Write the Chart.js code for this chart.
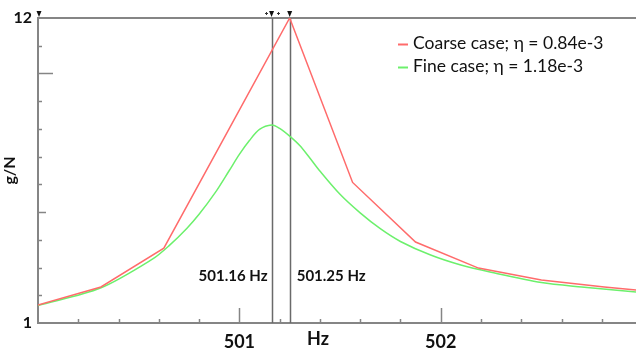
<!DOCTYPE html>
<html>
<head>
<meta charset="utf-8">
<script src="https://cdn.jsdelivr.net/npm/chart.js@4.4.1/dist/chart.umd.min.js"></script>
<style>
  html, body { margin: 0; padding: 0; background: #ffffff; }
  canvas { display: block; }
</style>
</head>
<body>
<canvas id="c" width="636" height="349"></canvas>
<script>
// ---- data ----
const coarseFreq = [500, 500.3125, 500.625, 500.9375, 501.25, 501.5625, 501.875, 502.1875, 502.5, 502.8125, 503.125];
const coarseVal  = [1.65, 2.30, 3.70, 7.85, 12.0, 6.07, 3.92, 2.98, 2.55, 2.30, 2.08];

const fineFreq = [500.00, 500.31, 500.57, 500.65, 500.74, 500.80, 500.88, 500.95, 501.00, 501.05, 501.10, 501.16, 501.20, 501.25, 501.30, 501.35, 501.40, 501.50, 501.60, 501.70, 501.80, 501.95, 502.10, 502.25, 502.50, 502.70, 502.97];
const fineVal  = [1.63, 2.26, 3.31, 3.78, 4.42, 4.92, 5.70, 6.50, 7.08, 7.58, 7.98, 8.14, 8.02, 7.74, 7.40, 6.95, 6.48, 5.64, 4.97, 4.40, 3.94, 3.45, 3.09, 2.83, 2.46, 2.30, 2.12];

const seriesLabels = ['Coarse case; \u03B7 = 0.84e-3', 'Fine case; \u03B7 = 1.18e-3'];
const cursorFreqs = [501.16, 501.25];
const cursorLabels = ['501.16 Hz', '501.25 Hz'];
const xLabelValues = [501, 502];
const yLabelValues = [1, 12];
const xTitle = 'Hz';
const yTitle = 'g/N';

const RED = '#ff6b6b';
const GREEN = '#6cf06c';
const AXIS = '#858585';
const FONT = 'Lato, "Liberation Sans", sans-serif';

const toXY = (xs, ys) => xs.map((x, i) => ({ x: x, y: ys[i] }));

const deco = {
  id: 'deco',
  beforeDatasetsDraw(chart) {
    const ctx = chart.ctx, a = chart.chartArea;
    const xs = chart.scales.x, ys = chart.scales.y;
    ctx.save();
    // top frame line
    ctx.strokeStyle = AXIS; ctx.lineWidth = 2;
    ctx.beginPath(); ctx.moveTo(a.left, a.top); ctx.lineTo(a.right, a.top); ctx.stroke();
    // inward tick marks
    ctx.lineWidth = 1.5;
    xs.ticks.forEach(t => {
      const v = t.value;
      if (v <= xs.min + 1e-6 || v >= xs.max - 1e-6) return;
      const isInt = Math.abs(v - Math.round(v)) < 1e-6;
      const len = isInt ? 15 : 4;
      const px = Math.round(xs.getPixelForValue(v)) + 0.5;
      ctx.beginPath(); ctx.moveTo(px, a.bottom); ctx.lineTo(px, a.bottom - len); ctx.stroke();
    });
    ys.ticks.forEach(t => {
      const v = Math.round(t.value);
      if (v <= ys.min || v >= ys.max) return;
      const len = v === 10 ? 15 : (v === 5 ? 8 : 4);
      const py = Math.round(ys.getPixelForValue(v)) + 0.5;
      ctx.beginPath(); ctx.moveTo(a.left, py); ctx.lineTo(a.left + len, py); ctx.stroke();
    });
    // cursor lines
    ctx.strokeStyle = '#6a6a6a'; ctx.lineWidth = 1.5;
    cursorFreqs.forEach(f => {
      const px = Math.round(xs.getPixelForValue(f)) + 0.5;
      ctx.beginPath(); ctx.moveTo(px, a.top); ctx.lineTo(px, a.bottom); ctx.stroke();
    });
    ctx.restore();
  },
  afterDraw(chart) {
    const ctx = chart.ctx, a = chart.chartArea;
    const xs = chart.scales.x;
    ctx.save();
    // top markers
    ctx.fillStyle = '#111';
    const tri = (px) => {
      ctx.beginPath();
      ctx.moveTo(px - 2.5, a.top - 7); ctx.lineTo(px + 2.5, a.top - 7); ctx.lineTo(px, a.top - 1);
      ctx.closePath(); ctx.fill();
    };
    tri(a.left + 1);
    cursorFreqs.forEach(f => tri(xs.getPixelForValue(f)));
    // small plus marks around the first cursor
    ctx.strokeStyle = '#333'; ctx.lineWidth = 1;
    const p0 = xs.getPixelForValue(cursorFreqs[0]);
    [-6, 6].forEach(d => {
      const cx = Math.round(p0 + d) + 0.5, cy = a.top - 4.5;
      ctx.beginPath(); ctx.moveTo(cx - 1.5, cy); ctx.lineTo(cx + 1.5, cy);
      ctx.moveTo(cx, cy - 1.5); ctx.lineTo(cx, cy + 1.5); ctx.stroke();
    });
    // cursor labels
    ctx.fillStyle = '#111';
    ctx.font = 'bold 15px ' + FONT;
    ctx.textBaseline = 'middle';
    ctx.textAlign = 'right';
    ctx.fillText(cursorLabels[0], xs.getPixelForValue(cursorFreqs[0]) - 4, 276);
    ctx.textAlign = 'left';
    ctx.fillText(cursorLabels[1], xs.getPixelForValue(cursorFreqs[1]) + 7, 276);
    // x title
    ctx.font = 'bold 18px ' + FONT;
    ctx.textAlign = 'center';
    ctx.fillText(xTitle, 318, 339);
    // legend
    ctx.font = '17.5px ' + FONT;
    ctx.textAlign = 'left';
    chart.data.datasets.forEach((ds, i) => {
      const y = 44 + i * 23;
      ctx.strokeStyle = ds.borderColor; ctx.lineWidth = 2;
      ctx.beginPath(); ctx.moveTo(398, y + 0.5); ctx.lineTo(408, y + 0.5); ctx.stroke();
      ctx.fillStyle = '#111';
      ctx.fillText(ds.label, 413, y - 1);
    });
    ctx.restore();
  }
};

new Chart(document.getElementById('c'), {
  type: 'line',
  data: {
    datasets: [
      { label: seriesLabels[0], data: toXY(coarseFreq, coarseVal), borderColor: RED, borderWidth: 1.5, pointRadius: 0, tension: 0, fill: false },
      { label: seriesLabels[1], data: toXY(fineFreq, fineVal), borderColor: GREEN, borderWidth: 1.5, pointRadius: 0, tension: 0.3, fill: false }
    ]
  },
  options: {
    responsive: false,
    animation: false,
    layout: { padding: { top: 18, right: 0, left: 0, bottom: 0 } },
    plugins: { legend: { display: false }, tooltip: { enabled: false } },
    scales: {
      x: {
        type: 'linear', min: 500, max: 502.97,
        afterFit: s => { s.height = 26; },
        grid: { display: false, drawTicks: false },
        border: { display: true, color: AXIS, width: 2 },
        ticks: {
          stepSize: 0.2, includeBounds: false, autoSkip: false, maxRotation: 0, padding: 8,
          color: '#111', font: { family: FONT, size: 18, weight: 'bold' },
          callback: v => xLabelValues.some(l => Math.abs(l - v) < 1e-6) ? String(Math.round(v)) : ''
        }
      },
      y: {
        min: 1, max: 12,
        afterFit: s => { s.width = 38; },
        grid: { display: false, drawTicks: false },
        border: { display: true, color: AXIS, width: 2 },
        title: { display: true, text: yTitle, color: '#111', font: { family: FONT, size: 16, weight: 'bold' }, padding: 0 },
        ticks: {
          stepSize: 1, autoSkip: false, padding: 6,
          color: '#111', font: { family: FONT, size: 16, weight: 'bold' },
          callback: v => yLabelValues.includes(Math.round(v)) && Math.abs(v - Math.round(v)) < 1e-6 ? String(Math.round(v)) : ''
        }
      }
    }
  },
  plugins: [deco]
});
</script>
</body>
</html>
